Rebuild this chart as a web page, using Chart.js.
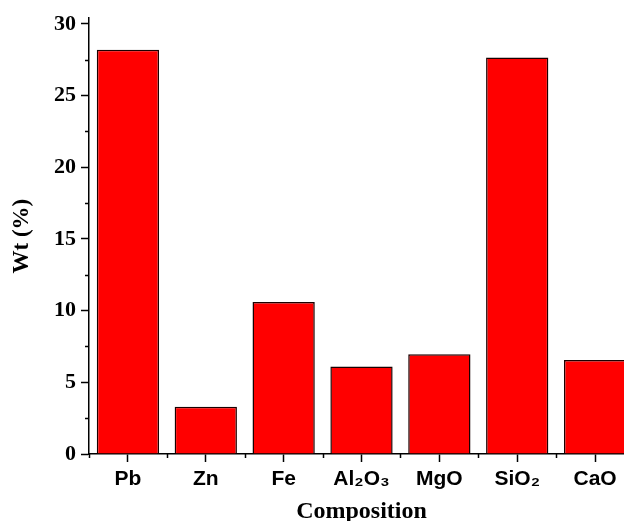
<!DOCTYPE html>
<html>
<head>
<meta charset="utf-8">
<script src="https://cdn.jsdelivr.net/npm/chart.js@4/dist/chart.umd.min.js"></script>
<style>
  html, body { margin: 0; padding: 0; background: #fff; overflow: hidden; }
  #wrap { width: 624px; height: 521px; overflow: hidden; position: relative; }
  canvas { display: block; }
</style>
</head>
<body>
<div id="wrap"><canvas id="chart" width="640" height="521"></canvas></div>
<script>
// ---- data ----
const categories = ['Pb', 'Zn', 'Fe', 'Al\u2082O\u2083', 'MgO', 'SiO\u2082', 'CaO'];
const wtValues = [28.2, 3.3, 10.6, 6.1, 6.95, 27.65, 6.55];
const yMajorTicks = [0, 5, 10, 15, 20, 25, 30];
const yMinorTicks = [2.5, 7.5, 12.5, 17.5, 22.5, 27.5];

// minor ticks on both axes
const minorTicks = {
  id: 'minorTicks',
  afterDraw(chart) {
    const { ctx, scales: { x, y } } = chart;
    ctx.save();
    ctx.strokeStyle = '#000';
    ctx.lineWidth = 1.5;
    ctx.beginPath();
    yMinorTicks.forEach(v => {
      const py = Math.round(y.getPixelForValue(v)) + 0.5;
      ctx.moveTo(x.left - 4, py);
      ctx.lineTo(x.left, py);
    });
    const half = (x.getPixelForValue(1) - x.getPixelForValue(0)) / 2;
    for (let i = 0; i <= categories.length; i++) {
      const px = Math.round(x.getPixelForValue(i) - half) + 0.5;
      ctx.moveTo(px, y.bottom);
      ctx.lineTo(px, y.bottom + 4);
    }
    ctx.stroke();
    ctx.restore();
  }
};

new Chart(document.getElementById('chart'), {
  type: 'bar',
  data: {
    labels: categories,
    datasets: [{
      data: wtValues,
      backgroundColor: '#ff0000',
      borderColor: '#1a0000',
      borderWidth: 1.5,
      barPercentage: 0.8,
      categoryPercentage: 1.0
    }]
  },
  options: {
    responsive: false,
    devicePixelRatio: 1,
    animation: false,
    layout: { padding: { left: 0, right: 6, top: 16, bottom: 0 } },
    plugins: { legend: { display: false }, tooltip: { enabled: false } },
    scales: {
      x: {
        afterFit: s => { s.height = 67; },
        grid: { offset: false, drawOnChartArea: false, drawTicks: true, tickLength: 8, tickColor: '#000', tickWidth: 1.5 },
        border: { color: '#000', width: 1.5 },
        ticks: {
          color: '#000', padding: 5,
          font: { family: '"Liberation Sans", Arial, sans-serif', size: 21, weight: 'bold' }
        },
        title: {
          display: true, text: 'Composition', color: '#000',
          padding: { top: 0, bottom: 0 },
          font: { family: '"Liberation Serif", "Times New Roman", serif', size: 24, weight: 'bold', lineHeight: 0.75 }
        }
      },
      y: {
        min: 0,
        max: 30.4,
        afterFit: s => { s.width = 89; },
        afterBuildTicks: s => { s.ticks = yMajorTicks.map(v => ({ value: v })); },
        grid: { drawOnChartArea: false, drawTicks: true, tickLength: 8, tickColor: '#000', tickWidth: 1.5 },
        border: { color: '#000', width: 1.5 },
        ticks: {
          color: '#000', padding: 5,
          font: { family: '"Liberation Serif", "Times New Roman", serif', size: 22, weight: 'bold' }
        },
        title: {
          display: true, text: 'Wt (%)', color: '#000',
          padding: { top: 8, bottom: 0 },
          font: { family: '"Liberation Serif", "Times New Roman", serif', size: 23, weight: 'bold' }
        }
      }
    }
  },
  plugins: [minorTicks]
});
</script>
</body>
</html>
